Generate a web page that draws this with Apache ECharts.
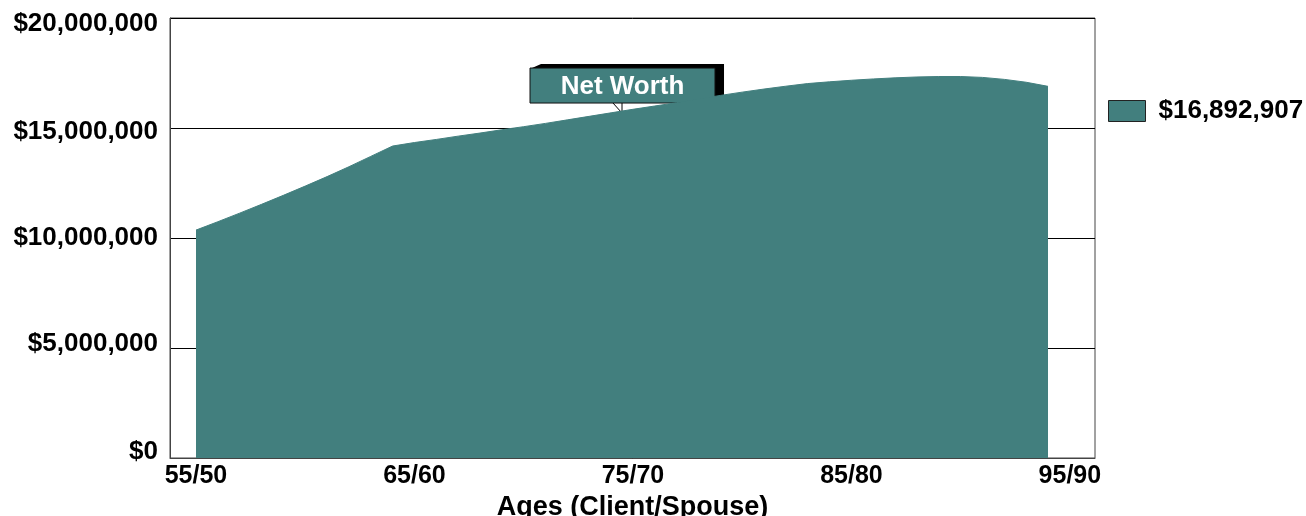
<!DOCTYPE html>
<html>
<head>
<meta charset="utf-8">
<script src="https://cdn.jsdelivr.net/npm/echarts@6/dist/echarts.min.js"></script>
<style>
  html, body { margin: 0; padding: 0; background: #fff; }
  #chart { width: 1306px; height: 516px; }
</style>
</head>
<body>
<div id="chart"></div>
<script>
// ages of client (spouse is client - 5)
const ages = [55, 56, 57, 58, 59, 60, 61, 62, 63, 64, 65, 66, 67, 68, 69, 70, 71, 72, 73, 74,
  75, 76, 77, 78, 79, 80, 81, 82, 83, 84, 85, 86, 87, 88, 89, 90, 91, 92, 93, 94];
// net worth (dollars)
const netWorth = [10360000, 10740000, 11130000, 11530000, 11940000, 12360000, 12790000, 13240000, 13710000, 14180000,
  14340000, 14480000, 14630000, 14770000, 14920000, 15060000, 15210000, 15370000, 15530000, 15690000,
  15850000, 16000000, 16150000, 16320000, 16480000, 16630000, 16770000, 16900000, 17020000, 17100000,
  17170000, 17230000, 17280000, 17320000, 17340000, 17340000, 17300000, 17210000, 17080000, 16892907];
const ageTicks = [55, 65, 75, 85, 95];

const teal = "#427f7e";
const font = "'Liberation Sans', Arial, sans-serif";

const money = v => "$" + Math.round(v).toLocaleString("en-US");

// the y labels in the picture sit a little off their grid lines
const labelShift = { 0: -6, 5000000: -4, 10000000: 0, 15000000: 4, 20000000: 6 };
const richY = {};
Object.keys(labelShift).forEach((k, i) => {
  const s = labelShift[k];
  richY["y" + i] = {
    fontFamily: font,
    fontWeight: "bold",
    fontSize: 26,
    color: "#000",
    padding: s > 0 ? [2 * s, 0, 0, 0] : [0, 0, -2 * s, 0]
  };
});

let chart = echarts.init(document.getElementById("chart"));
let option = {
  animation: false,
  grid: {
    left: 170,
    right: 211,
    top: 18,
    bottom: 58,
    outerBoundsMode: "none",
    containLabel: false,
    show: true,
    borderColor: "#444",
    borderWidth: 1
  },
  legend: {
    left: 1103,
    top: 93,
    itemWidth: 37,
    itemHeight: 21,
    icon: "rect",
    itemStyle: { color: teal, borderColor: "#222", borderWidth: 1 },
    textStyle: { fontFamily: font, fontWeight: "bold", fontSize: 26, color: "#000", padding: [0, 0, 0, 8] },
    formatter: () => money(netWorth[netWorth.length - 1]),
    data: ["Net Worth"]
  },
  xAxis: {
    type: "value",
    min: 53.81,
    max: 96.15,
    name: "Ages (Client/Spouse)",
    nameLocation: "middle",
    nameGap: 32,
    nameTextStyle: { fontFamily: font, fontWeight: "bold", fontSize: 27, color: "#000" },
    splitLine: { show: false },
    axisTick: { show: false },
    axisLine: { show: true, lineStyle: { color: "#444" } },
    axisLabel: {
      customValues: ageTicks,
      margin: 6,
      fontFamily: font,
      fontWeight: "bold",
      fontSize: 25,
      color: "#000",
      formatter: v => v + "/" + (v - 5)
    }
  },
  yAxis: {
    type: "value",
    min: 0,
    max: 20000000,
    interval: 5000000,
    axisLine: { show: true, lineStyle: { color: "#444" } },
    axisTick: { show: false },
    splitLine: { show: true, lineStyle: { color: "#000", width: 1 } },
    axisLabel: {
      margin: 12,
      fontFamily: font,
      fontWeight: "bold",
      fontSize: 26,
      color: "#000",
      formatter: v => "{y" + Object.keys(labelShift).indexOf(String(v)) + "|" + money(v) + "}",
      rich: richY
    }
  },
  series: [
    {
      name: "Net Worth",
      type: "line",
      data: ages.map((a, i) => [a, netWorth[i]]),
      showSymbol: false,
      lineStyle: { width: 1, color: teal },
      itemStyle: { color: teal },
      areaStyle: { color: teal, opacity: 1 }
    }
  ]
};
chart.setOption(option);

// "Net Worth" callout, anchored to a point on the area
const tip = chart.convertToPixel({ gridIndex: 0 }, [74.5, 15680000]);
const bx = tip[0] - 92, by = tip[1] - 45, bw = 185, bh = 35, d = 9, dy = 4;
chart.setOption({
  graphic: [
    {
      type: "polygon",
      shape: { points: [[bx + 2, by], [bx + d + 2, by - dy], [bx + bw + d, by - dy], [bx + bw + d, by + bh - 4], [bx + bw, by + bh], [bx + bw, by]] },
      style: { fill: "#000" }
    },
    {
      type: "rect",
      shape: { x: bx, y: by, width: bw, height: bh },
      style: { fill: teal, stroke: "#111", lineWidth: 1 }
    },
    {
      type: "text",
      x: bx + bw / 2,
      y: by + bh / 2 + 1,
      style: {
        text: "Net Worth",
        fill: "#fff",
        font: "bold 26px " + font,
        align: "center",
        verticalAlign: "middle"
      }
    },
    {
      type: "polyline",
      shape: { points: [[tip[0] - 9, by + bh], [tip[0], tip[1]], [tip[0], by + bh]] },
      style: { stroke: "#000", lineWidth: 1, fill: null }
    }
  ]
});
</script>
</body>
</html>
